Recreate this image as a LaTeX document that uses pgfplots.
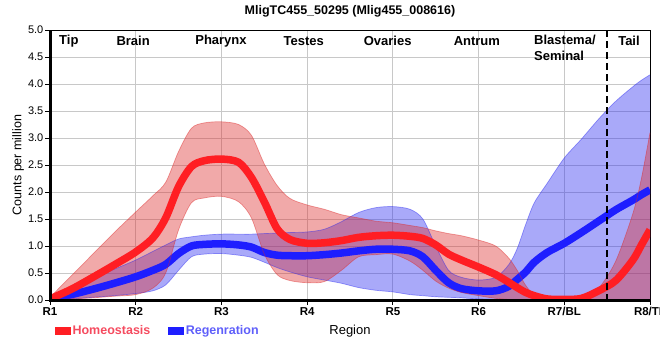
\documentclass[border=0pt]{standalone}
\usepackage{pgfplots}
\pgfplotsset{compat=1.18}
\usepackage{pgfplotstable}
\usepgfplotslibrary{fillbetween}
\usepackage{fontspec}
\setmainfont{Liberation Sans}

\definecolor{hm}{RGB}{255,30,35}
\definecolor{rg}{RGB}{30,30,255}
\definecolor{hmband}{RGB}{220,40,40}
\definecolor{rgband}{RGB}{40,40,240}
\definecolor{hmtext}{RGB}{245,75,95}
\definecolor{rgtext}{RGB}{95,95,250}
\definecolor{gridc}{RGB}{200,200,200}

\pgfplotstableread{
x     Hm    Hu    Hl    Rm    Ru    Rl
0     0.02  0.05  0.00  0.02  0.05  0.00
0.25  0.20  0.45  0.02  0.10  0.22  0.02
0.5   0.42  0.85  0.04  0.20  0.40  0.05
0.75  0.65  1.25  0.07  0.31  0.57  0.08
1.0   0.89  1.63  0.10  0.43  0.74  0.12
1.2   1.15  1.93  0.22  0.55  0.90  0.17
1.35  1.52  2.18  0.50  0.66  1.02  0.28
1.5   2.10  2.75  1.30  0.86  1.13  0.55
1.65  2.47  3.18  1.80  1.00  1.17  0.80
1.8   2.58  3.28  1.89  1.03  1.20  0.85
2.0   2.61  3.30  1.92  1.04  1.22  0.86
2.2   2.55  3.25  1.82  1.02  1.22  0.83
2.35  2.27  3.05  1.52  0.98  1.22  0.79
2.5   1.82  2.52  0.85  0.88  1.23  0.70
2.65  1.32  2.12  0.47  0.83  1.24  0.60
2.8   1.12  1.88  0.36  0.82  1.25  0.52
3.0   1.05  1.76  0.32  0.82  1.26  0.43
3.2   1.06  1.68  0.34  0.84  1.31  0.37
3.4   1.10  1.58  0.55  0.87  1.45  0.31
3.6   1.16  1.52  0.80  0.91  1.62  0.23
3.8   1.19  1.46  0.84  0.94  1.71  0.18
4.0   1.20  1.43  0.85  0.94  1.73  0.15
4.2   1.18  1.38  0.72  0.91  1.68  0.10
4.35  1.14  1.34  0.55  0.80  1.50  0.08
4.5   1.02  1.28  0.35  0.55  1.00  0.06
4.65  0.85  1.23  0.22  0.32  0.55  0.05
4.8   0.74  1.19  0.14  0.21  0.42  0.04
5.0   0.61  1.11  0.08  0.17  0.37  0.02
5.2   0.47  1.00  0.03  0.17  0.42  0.01
5.35  0.33  0.78  0.01  0.25  0.65  0.00
5.45  0.23  0.55  0.00  0.38  0.95  0.00
5.55  0.14  0.27  0.00  0.52  1.40  0.00
5.65  0.08  0.10  0.00  0.70  1.80  0.00
5.8   0.02  0.03  0.00  0.88  2.16  0.00
6.0   0.01  0.02  0.00  1.05  2.63  0.00
6.2   0.03  0.05  0.00  1.25  2.98  0.00
6.4   0.17  0.22  0.00  1.46  3.35  0.00
6.6   0.36  0.72  0.00  1.67  3.68  0.00
6.8   0.74  1.60  0.00  1.85  3.95  0.00
6.9   1.02  2.25  0.00  1.95  4.07  0.00
7.0   1.30  3.10  0.00  2.04  4.17  0.00
}\data

\begin{document}
\begin{tikzpicture}
\begin{axis}[
  name=ax,
  at={(0,0)}, anchor=south west,
  width=600pt, height=270pt, scale only axis,
  xmin=0, xmax=7, ymin=0, ymax=5,
  xtick={0,1,2,3,4,5,6,7},
  xticklabels={R1,R2,R3,R4,R5,R6,R7/BL,R8/TL},
  ytick={0,0.5,1,1.5,2,2.5,3,3.5,4,4.5,5},
  yticklabel={\pgfmathprintnumber[fixed,fixed zerofill,precision=1,assume math mode=true]{\tick}},
  grid=major,
  major grid style={gridc, line width=1pt},
  axis line style={black, line width=1pt},
  tick align=outside, tick pos=left,
  major tick length=5pt,
  tick style={black, line width=1pt},
  yticklabel style={font=\fontsize{11}{12}\selectfont, inner xsep=1.5pt},
  xticklabel style={font=\fontsize{11.5}{13}\selectfont\bfseries, inner ysep=2pt},
  title={MligTC455\_50295 (Mlig455\_008616)},
  title style={at={(axis description cs:0.5,1.048)}, anchor=center, yshift=0pt, font=\fontsize{12.5}{14}\selectfont\bfseries},
  xlabel={Region},
  xlabel style={at={(axis description cs:0.5,-0.115)}, anchor=center, font=\fontsize{13}{15}\selectfont},
  ylabel={Counts per million},
  ylabel style={at={(axis description cs:-0.0533,0.5)}, anchor=center, font=\fontsize{12.5}{14}\selectfont},
  legend style={at={(axis description cs:0.0083,-0.115)}, anchor=west, draw=none, fill=none,
    font=\fontsize{12.5}{14}\selectfont\bfseries, inner sep=0pt,
    /tikz/every even column/.append style={column sep=16pt}},
  legend columns=2,
  legend image code/.code={\fill[#1] (0pt,-3.5pt) rectangle (15pt,3.5pt);},
]
\addlegendimage{color=hm}
\addlegendentry{\textcolor{hmtext}{Homeostasis}}
\addlegendimage{color=rg}
\addlegendentry{\textcolor{rgtext}{Regenration}}

% Regeneration band and line
\addplot[name path=RU, draw=rgband, draw opacity=0.45, line width=0.7pt, smooth, forget plot] table[x=x,y=Ru]{\data};
\addplot[name path=RL, draw=rgband, draw opacity=0.45, line width=0.7pt, smooth, forget plot] table[x=x,y=Rl]{\data};
\addplot[fill=rgband, fill opacity=0.4, draw=none, forget plot] fill between[of=RU and RL];
\addplot[rg, line width=7.5pt, smooth, forget plot] table[x=x,y=Rm]{\data};

% Homeostasis band and line
\addplot[name path=HU, draw=hmband, draw opacity=0.45, line width=0.7pt, smooth, forget plot] table[x=x,y=Hu]{\data};
\addplot[name path=HL, draw=hmband, draw opacity=0.45, line width=0.7pt, smooth, forget plot] table[x=x,y=Hl]{\data};
\addplot[fill=hmband, fill opacity=0.4, draw=none, forget plot] fill between[of=HU and HL];
\addplot[hm, line width=7.5pt, smooth, forget plot] table[x=x,y=Hm]{\data};

\begin{scope}[font=\fontsize{13}{16}\selectfont\bfseries]
\node at (axis cs:0.22,4.8) {Tip};
\node at (axis cs:0.97,4.8) {Brain};
\node at (axis cs:1.995,4.8) {Pharynx};
\node at (axis cs:2.96,4.8) {Testes};
\node at (axis cs:3.94,4.8) {Ovaries};
\node at (axis cs:4.98,4.8) {Antrum};
\node[anchor=west, align=left, inner xsep=0pt] at (axis cs:5.647,4.667) {Blastema/\\Seminal};
\node at (axis cs:6.755,4.8) {Tail};
\end{scope}

\coordinate (dtop) at (axis cs:6.5,5);
\coordinate (dbot) at (axis cs:6.5,0);
\end{axis}
\draw[line width=3pt] (ax.north west) -- (ax.south west) -- (ax.south east);
\draw[line width=2.5pt, dash pattern=on 7pt off 4pt] (dtop) -- ([yshift=-5pt]dbot);
\pgfresetboundingbox
\path[use as bounding box] (-50pt,-60pt) rectangle (610pt,300pt);
\end{tikzpicture}
\end{document}
